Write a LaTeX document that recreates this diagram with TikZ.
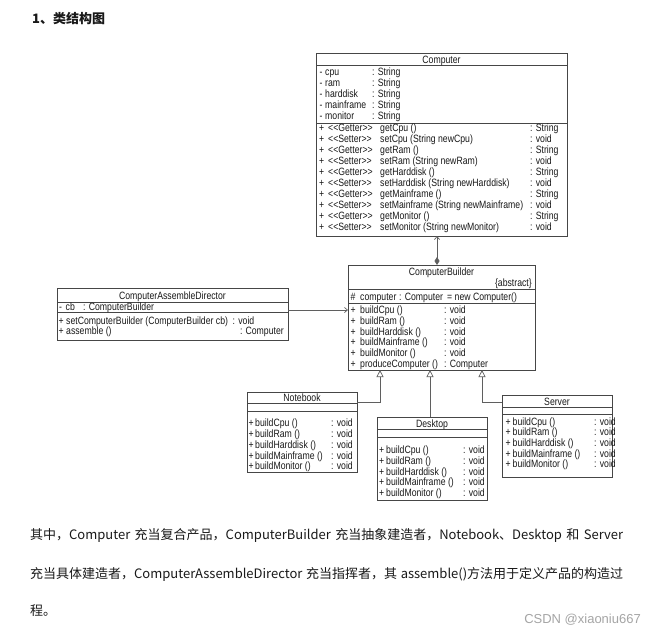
\documentclass[tikz,border=0pt]{standalone}
\usepackage{fontspec}
\setmainfont{Liberation Sans}
\newfontfamily\cjk{Noto Sans CJK SC}
\newfontfamily\uml{Liberation Sans}[FakeStretch=0.82]
\newfontfamily\wmfont{Liberation Sans}
\usetikzlibrary{arrows.meta}
\definecolor{bord}{RGB}{70,70,70}
\definecolor{conn}{RGB}{95,95,95}
\definecolor{wm}{RGB}{165,165,165}
\tikzset{
 cls/.style={draw=bord, line width=0.7pt, inner sep=0pt, outer sep=0pt, anchor=north west},
 sepl/.style={draw=bord, line width=0.6pt},
 t/.style={font=\uml\fontsize{10.6}{11}\selectfont, inner sep=0pt, anchor=base west, text=black!90},
 tc/.style={t, anchor=base},
 tr/.style={t, anchor=base east},
 gen/.style={draw=conn, line width=0.7pt, -{Triangle[open,length=7pt,width=7pt,fill=white]}},
 comp/.style={draw=conn, line width=0.7pt, {Diamond[length=8pt,width=5pt]}-{Straight Barb[length=3pt,width=5pt]}},
 assoc/.style={draw=conn, line width=0.7pt, -{Straight Barb[length=3pt,width=5pt]}},
 body/.style={font=\cjk\fontsize{13}{15}\selectfont, inner sep=0pt, anchor=base west, text=black!90},
}
\begin{document}
\begin{tikzpicture}[x=1pt,y=-1pt]
\useasboundingbox[fill=white] (0,0) rectangle (650,632);

% title
\node[body, font=\cjk\bfseries\fontsize{13}{15}\selectfont] (title) at (32,23) {1、类结构图};

% ---------- Computer ----------
\node[cls, minimum width=251pt, minimum height=183pt] (computer) at (316,53) {};
\draw[sepl] (316,65) -- (567,65);
\draw[sepl] (316,123) -- (567,123);
\node[tc] (computerT) at (441.5,63) {Computer};
\foreach \nm [count=\i from 0] in {cpu,ram,harddisk,mainframe,monitor} {
  \node[t] (ca\i) at (319.5,75.5+11*\i) {-};
  \node[t] (can\i) at (325,75.5+11*\i) {\nm};
  \node[t] (cat\i) at (372,75.5+11*\i) {: String};
}
\foreach \st/\nm/\ty [count=\i from 0] in {Getter/getCpu ()/String, Setter/setCpu (String newCpu)/void,
  Getter/getRam ()/String, Setter/setRam (String newRam)/void,
  Getter/getHarddisk ()/String, Setter/setHarddisk (String newHarddisk)/void,
  Getter/getMainframe ()/String, Setter/setMainframe (String newMainframe)/void,
  Getter/getMonitor ()/String, Setter/setMonitor (String newMonitor)/void} {
  \node[t] (cm\i) at (319,131+11.1*\i) {+};
  \node[t] (cms\i) at (328,131+11.1*\i) {<<\st>>};
  \node[t] (cmn\i) at (380,131+11.1*\i) {\nm};
  \node[t] (cmt\i) at (530,131+11.1*\i) {: \ty};
}

% ---------- ComputerBuilder ----------
\node[cls, minimum width=187pt, minimum height=105pt] (builder) at (348,265) {};
\draw[sepl] (348,289) -- (535,289);
\draw[sepl] (348,303) -- (535,303);
\node[tc] (builderT) at (441.5,275.5) {ComputerBuilder};
\node[tr] (builderA) at (532,286.5) {\{abstract\}};
\node[t] (ba1) at (350.5,300) {\#};
\node[t] (ba2) at (360,300) {computer};
\node[t] (ba3) at (399,300) {: Computer};
\node[t] (ba4) at (447,300) {= new Computer()};
\foreach \nm/\ty [count=\i from 0] in {buildCpu ()/void, buildRam ()/void, buildHarddisk ()/void,
  buildMainframe ()/void, buildMonitor ()/void, produceComputer ()/Computer} {
  \node[t] (bm\i) at (350.5,313.5+10.8*\i) {+};
  \node[t] (bmn\i) at (360,313.5+10.8*\i) {\nm};
  \node[t] (bmt\i) at (444,313.5+10.8*\i) {: \ty};
}

% ---------- ComputerAssembleDirector ----------
\node[cls, minimum width=231pt, minimum height=52pt] (director) at (57,288) {};
\draw[sepl] (57,302) -- (288,302);
\draw[sepl] (57,312) -- (288,312);
\node[tc] (directorT) at (172.5,299) {ComputerAssembleDirector};
\node[t] (da1) at (59,310.5) {-};
\node[t] (da2) at (65.5,310.5) {cb};
\node[t] (da3) at (83,310.5) {: ComputerBuilder};
\node[t] (dm1) at (58.5,324) {+};
\node[t] (dm1n) at (66,324) {setComputerBuilder (ComputerBuilder cb)};
\node[t] (dm1t) at (232.5,324) {: void};
\node[t] (dm2) at (58.5,334) {+};
\node[t] (dm2n) at (66,334) {assemble ()};
\node[tr] (dm2t) at (284,334) {: Computer};

% ---------- concrete builders ----------
\node[cls, minimum width=110pt, minimum height=80pt] (notebook) at (247,392) {};
\draw[sepl] (247,403) -- (357,403);
\draw[sepl] (247,411.5) -- (357,411.5);
\node[tc] (notebookT) at (302,401.5) {Notebook};

\node[cls, minimum width=110pt, minimum height=83pt] (desktop) at (377,417) {};
\draw[sepl] (377,429) -- (487,429);
\draw[sepl] (377,437) -- (487,437);
\node[tc] (desktopT) at (432,427) {Desktop};

\node[cls, minimum width=110pt, minimum height=82pt] (server) at (502,395) {};
\draw[sepl] (502,407) -- (612,407);
\draw[sepl] (502,414) -- (612,414);
\node[tc] (serverT) at (557,405) {Server};

\foreach \nm [count=\i from 0] in {buildCpu (), buildRam (), buildHarddisk (), buildMainframe (), buildMonitor ()} {
  \node[t] (nb\i) at (248.3,426.5+10.85*\i) {+};
  \node[t] (nbn\i) at (255,426.5+10.85*\i) {\nm};
  \node[t] (nbt\i) at (331,426.5+10.85*\i) {: void};
  \node[t] (dk\i) at (379,453.3+10.85*\i) {+};
  \node[t] (dkn\i) at (386,453.3+10.85*\i) {\nm};
  \node[t] (dkt\i) at (463,453.3+10.85*\i) {: void};
  \node[t] (sv\i) at (505.5,425.3+10.6*\i) {+};
  \node[t] (svn\i) at (512.5,425.3+10.6*\i) {\nm};
  \node[t] (svt\i) at (594,425.3+10.6*\i) {: void};
}

% ---------- connectors ----------
\coordinate (cx) at (437,0);
\draw[comp] (builder.north -| cx) -- (computer.south -| cx);
\coordinate (ay) at (0,310);
\draw[assoc] (director.east |- ay) -- (builder.west |- ay);
\coordinate (nbj) at (380,402);
\draw[gen] (nbj -| notebook.east) -- (nbj) -- (nbj |- builder.south);
\coordinate (dkj) at (430,0);
\draw[gen] (dkj |- desktop.north) -- (dkj |- builder.south);
\coordinate (svj) at (482,402);
\draw[gen] (svj -| server.west) -- (svj) -- (svj |- builder.south);

% ---------- text below ----------
\node[body] (p1) at (30,539) {\XeTeXlinebreaklocale "zh"\XeTeXlinebreakskip=0pt plus 2pt\makebox[593pt][s]{其中，Computer 充当复合产品，ComputerBuilder 充当抽象建造者，Notebook、Desktop 和 Server}};
\node[body] (p2) at (30,578) {\XeTeXlinebreaklocale "zh"\XeTeXlinebreakskip=0pt plus 2pt\makebox[593pt][s]{充当具体建造者，ComputerAssembleDirector 充当指挥者，其 assemble()方法用于定义产品的构造过}};
\node[body] (p3) at (30,615) {程。};
\node[t, anchor=base east, font=\wmfont\fontsize{13}{15}\selectfont, text=wm] (wmark) at (641,623.5) {CSDN @xiaoniu667};
\end{tikzpicture}
\end{document}
